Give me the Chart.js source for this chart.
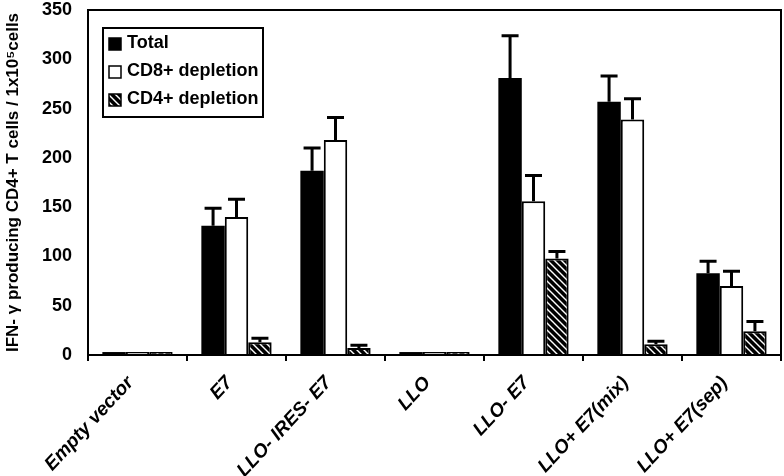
<!DOCTYPE html>
<html>
<head>
<meta charset="utf-8">
<script src="https://cdn.jsdelivr.net/npm/chart.js@4"></script>
<style>
	html, body { margin: 0; padding: 0; background: #fff; }
	#wrap { width: 784px; height: 476px; }
</style>
</head>
<body>
<div id="wrap"><canvas id="chart" width="784" height="476"></canvas></div>
<script>
// data
var categories = ['Empty vector', 'E7', 'LLO- IRES- E7', 'LLO', 'LLO- E7', 'LLO+ E7(mix)', 'LLO+ E7(sep)'];
var seriesNames = ['Total', 'CD8+ depletion', 'CD4+ depletion'];
var totalValues = [3, 131, 187, 3, 281, 257, 83];
var totalErrors = [0, 18, 23, 0, 43, 26, 12];
var cd8Values = [3, 140, 218, 3, 156, 239, 70];
var cd8Errors = [0, 18, 23, 0, 26, 21, 15];
var cd4Values = [3, 13, 7, 3, 98, 11, 24];
var cd4Errors = [0, 4, 3, 0, 7, 3, 10];
var yTicks = [0, 50, 100, 150, 200, 250, 300, 350];

function hatch() {
	var c = document.createElement('canvas');
	c.width = 7;
	c.height = 7;
	var g = c.getContext('2d');
	g.fillStyle = '#000';
	g.fillRect(0, 0, 7, 7);
	g.strokeStyle = '#fff';
	g.lineWidth = 1.4;
	g.beginPath();
	g.moveTo(-1, -1); g.lineTo(8, 8);
	g.moveTo(-1, 6); g.lineTo(1, 8);
	g.moveTo(6, -1); g.lineTo(8, 1);
	g.stroke();
	return g.createPattern(c, 'repeat');
}

var errorBars = {
	id: 'errorBars',
	afterDatasetsDraw: function (chart) {
		var ctx = chart.ctx;
		var y = chart.scales.y;
		var errs = [totalErrors, cd8Errors, cd4Errors];
		ctx.save();
		ctx.strokeStyle = '#000';
		ctx.lineWidth = 3;
		chart.data.datasets.forEach(function (ds, i) {
			var meta = chart.getDatasetMeta(i);
			meta.data.forEach(function (bar, j) {
				if (!errs[i][j]) return;
				var top = y.getPixelForValue(ds.data[j]);
				var end = y.getPixelForValue(ds.data[j] + errs[i][j]);
				ctx.beginPath();
				ctx.moveTo(bar.x, top);
				ctx.lineTo(bar.x, end);
				ctx.moveTo(bar.x - 8.5, end);
				ctx.lineTo(bar.x + 8.5, end);
				ctx.stroke();
			});
		});
		ctx.restore();
	}
};

var frameAndLegend = {
	id: 'frameAndLegend',
	afterDraw: function (chart) {
		var ctx = chart.ctx;
		var a = chart.chartArea;
		ctx.save();
		ctx.strokeStyle = '#000';
		ctx.lineWidth = 2;
		ctx.strokeRect(a.left, a.top, a.right - a.left, a.bottom - a.top);

		// legend box
		var lx = a.left + 15, ly = a.top + 18;
		ctx.strokeRect(lx, ly, 160, 89);
		ctx.font = 'bold 18px "Liberation Sans", Arial, sans-serif';
		ctx.textBaseline = 'middle';
		chart.data.datasets.forEach(function (ds, i) {
			var cy = ly + 15 + i * 28;
			ctx.fillStyle = ds.backgroundColor;
			ctx.fillRect(lx + 6, cy - 5, 12, 12);
			ctx.lineWidth = 1.5;
			ctx.strokeRect(lx + 6, cy - 5, 12, 12);
			ctx.fillStyle = '#000';
			ctx.fillText(ds.label, lx + 24, cy);
		});
		ctx.restore();
	}
};

var ds = [
	{ label: seriesNames[0], data: totalValues, backgroundColor: '#000', borderColor: '#000', borderWidth: 0 },
	{ label: seriesNames[1], data: cd8Values, backgroundColor: '#fff', borderColor: '#000', borderWidth: 2 },
	{ label: seriesNames[2], data: cd4Values, backgroundColor: hatch(), borderColor: '#000', borderWidth: 2 }
];

new Chart(document.getElementById('chart').getContext('2d'), {
	type: 'bar',
	data: { labels: categories, datasets: ds },
	options: {
		responsive: false,
		animation: false,
		events: [],
		layout: { padding: { top: 0, right: 3, left: 0, bottom: 0 } },
		datasets: { bar: { categoryPercentage: 0.71, barPercentage: 1, borderSkipped: 'start' } },
		plugins: { legend: { display: false }, tooltip: { enabled: false } },
		scales: {
			x: {
				grid: { display: true, drawOnChartArea: false, offset: true, color: '#000', lineWidth: 2, tickLength: 6 },
				border: { display: true, color: '#000', width: 2 },
				ticks: {
					color: '#000',
					minRotation: 47,
					maxRotation: 47,
					autoSkip: false,
					padding: 11,
					labelOffset: -7,
					font: { family: '"Liberation Sans", Arial, sans-serif', size: 19, weight: 'bold', style: 'italic' }
				},
				afterFit: function (s) { s.height = 121; }
			},
			y: {
				min: 0,
				max: 350,
				afterBuildTicks: function (s) { s.ticks = yTicks.map(function (v) { return { value: v }; }); },
				grid: { display: false },
				border: { display: true, color: '#000', width: 2 },
				ticks: {
					color: '#000',
					padding: 8,
					font: { family: '"Liberation Sans", Arial, sans-serif', size: 18, weight: 'bold' }
				},
				title: {
					display: true,
					text: 'IFN- γ producing CD4+ T cells / 1x10⁵cells',
					color: '#000',
					padding: { top: 3, bottom: 3 },
					font: { family: '"Liberation Sans", Arial, sans-serif', size: 17, weight: 'bold' }
				},
				afterFit: function (s) {
					s.width = 88;
					s.paddingTop = 10;
					s.paddingBottom = 0;
				}
			}
		}
	},
	plugins: [errorBars, frameAndLegend]
});
</script>
</body>
</html>
